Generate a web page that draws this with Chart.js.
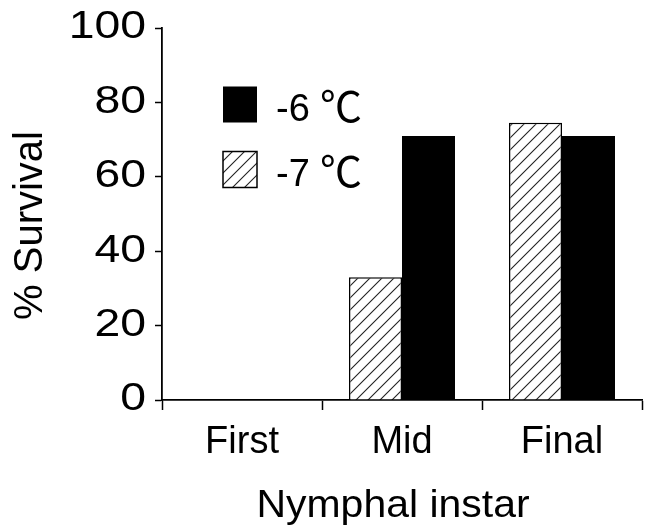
<!DOCTYPE html>
<html>
<head>
<meta charset="utf-8">
<style>
  html, body { margin: 0; padding: 0; background: #ffffff; }
  #wrap { width: 646px; height: 527px; }
</style>
<script src="https://cdn.jsdelivr.net/npm/chart.js@4.4.1/dist/chart.umd.min.js"></script>
</head>
<body>
<div id="wrap"><canvas id="c" width="646" height="527"></canvas></div>
<script>
// ---- data ----
const categories = ['First', 'Mid', 'Final'];
const survivalMinus7 = [0, 33, 74.5];
const survivalMinus6 = [0, 71, 71];
const seriesLabels = ['-7 ℃', '-6 ℃'];
const yMajorTicks = [0, 20, 40, 60, 80, 100];
const yMinorTicks = [0, 10, 20, 30, 40, 50, 60, 70, 80, 90, 100];
const xTitle = 'Nymphal instar';
const yTitle = '% Survival';

// ---- styles ----
const FONT = "'Liberation Sans', Arial, Helvetica, sans-serif";
const LEGEND_FONT_A = "38px 'Liberation Sans', Arial, sans-serif";
const LEGEND_FONT_B = "42px 'Noto Sans CJK JP', 'Noto Sans CJK SC', 'DejaVu Sans', sans-serif";
// horizontal stretch of text (the original typeface is wide) and title shifts
const textStretch = {
  x: { labels: 1.0, title: 1.05, dx: -9, dy: 3 },
  y: { labels: 1.22, title: 1.0, dx: 0, dy: 11.5 }
};

const canvas = document.getElementById('c');
const ctx = canvas.getContext('2d');

function makeHatch() {
  const size = 12;
  const c = document.createElement('canvas');
  c.width = size; c.height = size;
  const g = c.getContext('2d');
  g.fillStyle = '#ffffff';
  g.fillRect(0, 0, size, size);
  g.strokeStyle = '#222222';
  g.lineWidth = 1.1;
  g.beginPath();
  g.moveTo(0, size); g.lineTo(size, 0);
  g.moveTo(-size / 2, size / 2); g.lineTo(size / 2, -size / 2);
  g.moveTo(size / 2, size * 1.5); g.lineTo(size * 1.5, size / 2);
  g.stroke();
  return ctx.createPattern(c, 'repeat');
}
const hatch = makeHatch();

function withStretch(c, sx, fn) {
  const proto = Object.getPrototypeOf(c).fillText;
  c.fillText = function (t, x, y) {
    this.save();
    this.translate(x, y);
    this.scale(sx, 1);
    proto.call(this, t, 0, 0);
    this.restore();
  };
  try { fn(); } finally { delete c.fillText; }
}

const stretchPlugin = {
  id: 'textStretch',
  beforeDraw(chart) {
    Object.keys(textStretch).forEach(id => {
      const s = chart.scales[id];
      if (!s || s._stPatched) return;
      const cfg = textStretch[id];
      const origLabels = s.drawLabels.bind(s);
      const origTitle = s.drawTitle.bind(s);
      s.drawLabels = function (area) {
        withStretch(this.ctx, cfg.labels, () => origLabels(area));
      };
      s.drawTitle = function () {
        const c = this.ctx;
        c.save();
        c.translate(cfg.dx, cfg.dy);
        withStretch(c, cfg.title, () => origTitle());
        c.restore();
      };
      s._stPatched = true;
    });
  }
};

const legendPlugin = {
  id: 'insideLegend',
  afterDraw(chart) {
    const c = chart.ctx;
    const a = chart.chartArea;
    const order = [1, 0];
    c.save();
    order.forEach((di, i) => {
      const ds = chart.data.datasets[di];
      const bx = a.left + 61;
      const by = a.top + 58.5 + i * 65;
      const bw = 34, bh = 36;
      c.fillStyle = ds.backgroundColor;
      c.fillRect(bx, by, bw, bh);
      if (ds.borderWidth) {
        c.strokeStyle = ds.borderColor;
        c.lineWidth = 1.5;
        c.strokeRect(bx, by, bw, bh);
      }
      const parts = ds.label.split(' ');
      c.fillStyle = '#000000';
      c.textAlign = 'left';
      c.textBaseline = 'alphabetic';
      c.font = LEGEND_FONT_A;
      c.fillText(parts[0], a.left + 114, by + 34);
      c.font = LEGEND_FONT_B;
      c.fillText(parts[1], a.left + 158, by + 35);
    });
    c.restore();
  }
};

new Chart(ctx, {
  type: 'bar',
  data: {
    labels: categories,
    datasets: [
      {
        label: seriesLabels[0],
        data: survivalMinus7,
        backgroundColor: hatch,
        borderColor: '#000000',
        borderWidth: 1.5,
        borderSkipped: 'start',
        categoryPercentage: 0.6625,
        barPercentage: 1.0
      },
      {
        label: seriesLabels[1],
        data: survivalMinus6,
        backgroundColor: '#000000',
        borderWidth: 0,
        categoryPercentage: 0.6625,
        barPercentage: 1.0
      }
    ]
  },
  options: {
    responsive: false,
    animation: false,
    devicePixelRatio: 1,
    layout: { padding: { top: 25, right: 4, left: 0, bottom: 0 } },
    plugins: {
      legend: { display: false },
      tooltip: { enabled: false },
      title: { display: false }
    },
    scales: {
      x: {
        type: 'category',
        position: 'bottom',
        offset: true,
        afterFit: s => { s.height = 127; },
        grid: {
          display: true,
          offset: true,
          drawOnChartArea: false,
          drawTicks: true,
          tickLength: 10,
          tickColor: '#000000',
          tickWidth: 1.5
        },
        border: { display: true, color: '#000000', width: 1.8 },
        ticks: {
          color: '#000000',
          padding: 9.5,
          maxRotation: 0,
          autoSkip: false,
          font: { family: FONT, size: 38 }
        },
        title: {
          display: true,
          text: xTitle,
          color: '#000000',
          padding: { top: 0, bottom: 0 },
          font: { family: FONT, size: 39 }
        }
      },
      y: {
        type: 'linear',
        position: 'left',
        min: 0,
        max: 100,
        afterFit: s => { s.width = 162; },
        afterBuildTicks: s => { s.ticks = yMajorTicks.map(v => ({ value: v })); },
        grid: {
          display: true,
          drawOnChartArea: false,
          drawTicks: true,
          tickLength: 7,
          tickColor: '#000000',
          tickWidth: 1.5
        },
        border: { display: true, color: '#000000', width: 1.8 },
        ticks: {
          color: '#000000',
          padding: 9,
          autoSkip: false,
          font: { family: FONT, size: 38, lineHeight: 1.0 }
        },
        title: {
          display: true,
          text: yTitle,
          color: '#000000',
          padding: { top: 7, bottom: 0 },
          font: { family: FONT, size: 40 }
        }
      },
      y2: {
        type: 'linear',
        position: 'left',
        min: 0,
        max: 100,
        afterFit: s => { s.width = 0; },
        afterBuildTicks: s => { s.ticks = yMinorTicks.map(v => ({ value: v })); },
        grid: {
          display: true,
          drawOnChartArea: false,
          drawTicks: true,
          tickLength: 4,
          tickColor: '#000000',
          tickWidth: 1.2
        },
        border: { display: false },
        ticks: { display: false }
      }
    }
  },
  plugins: [stretchPlugin, legendPlugin]
});
</script>
</body>
</html>
